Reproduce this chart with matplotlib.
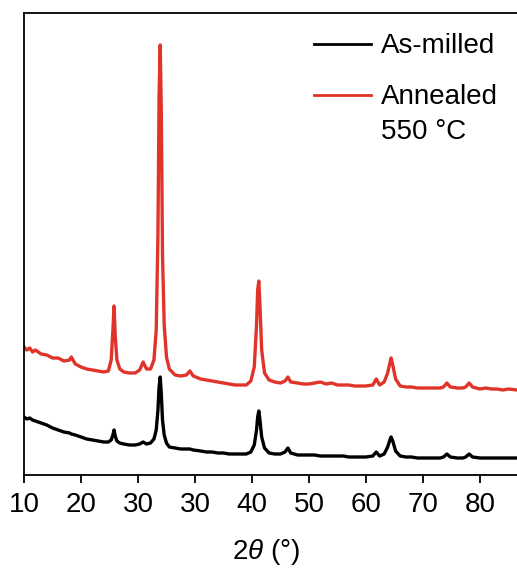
import matplotlib
matplotlib.use("Agg")
import matplotlib.pyplot as plt
from matplotlib.lines import Line2D

plt.rcParams['font.family'] = ['Liberation Sans', 'DejaVu Sans']
plt.rcParams['mathtext.fontset'] = 'custom'
plt.rcParams['mathtext.rm'] = 'Liberation Sans'
plt.rcParams['mathtext.it'] = 'Liberation Sans:italic'

# ---- data (x in axis units, y in arbitrary intensity units) ----
two_theta = [
    10, 10.5, 11, 11.5, 12, 13, 14, 15, 16, 17,
    18, 18.3, 19, 20, 21, 22, 23, 24, 24.8, 25.3,
    25.6, 25.8, 26.0, 26.3, 26.8, 27.5, 28.5, 29.5, 30.3, 30.9,
    31.5, 32.2, 32.8, 33.2, 33.5, 33.7, 33.9, 34.1, 34.3, 34.6,
    35.0, 35.5, 36.5, 37.5, 38.5, 39.1, 39.7, 41, 42, 43,
    44, 45, 46, 47, 48, 49, 49.8, 50.4, 50.8, 51.0,
    51.2, 51.4, 51.7, 52.2, 53, 54, 55, 55.8, 56.3, 56.8,
    58, 59, 60, 61, 62, 63, 64, 65, 66, 67,
    68, 69, 70, 71.2, 71.8, 72.4, 73.2, 73.8, 74.2, 74.4,
    74.7, 75.2, 76, 77, 78, 79, 80, 81, 82, 83,
    83.6, 84.2, 84.8, 86, 87, 87.5, 88.1, 88.7, 90, 91,
    92, 93, 94, 95, 96.5,
]
as_milled = [
    58, 56, 57, 55, 54, 52, 50, 47, 45, 43,
    42, 41, 40, 38, 36, 35, 34, 33, 33, 35,
    40, 45, 39, 34, 32, 31, 30, 30, 31, 33,
    31, 32, 36, 45, 65, 88, 98, 80, 55, 40,
    32, 28, 27, 26, 26, 26, 25, 24, 23, 23,
    22, 22, 21, 21, 21, 21, 23, 30, 45, 58,
    64, 55, 38, 27, 22, 21, 21, 23, 27, 22,
    20, 20, 20, 20, 19, 19, 19, 19, 19, 18,
    18, 18, 18, 19, 23, 19, 21, 28, 35, 38,
    34, 24, 19, 18, 18, 17, 17, 17, 17, 17,
    18, 21, 18, 17, 17, 18, 21, 18, 17, 17,
    17, 17, 17, 17, 17,
]
annealed = [
    128, 125, 127, 123, 125, 121, 120, 117, 117, 114,
    115, 118, 111, 108, 106, 105, 104, 103, 104, 115,
    145, 169, 140, 115, 106, 103, 102, 102, 105, 113,
    106, 106, 115, 145, 240, 380, 430, 360, 220, 150,
    118, 106, 100, 99, 100, 104, 99, 96, 95, 94,
    93, 92, 91, 90, 90, 90, 94, 108, 150, 185,
    194, 170, 125, 102, 95, 93, 92, 94, 98, 93,
    92, 91, 91, 92, 93, 91, 92, 90, 90, 90,
    89, 89, 89, 90, 96, 90, 93, 102, 112, 117,
    110, 96, 89, 88, 88, 87, 87, 87, 87, 87,
    88, 92, 88, 87, 87, 88, 92, 88, 86, 87,
    86, 86, 85, 86, 85,
]
series_labels = ["As-milled", "Annealed\n550 °C"]
tick_positions = [10, 20, 30, 40, 50, 60, 70, 80, 90]
tick_labels = ["10", "20", "30", "30", "40", "50", "60", "70", "80"]

black = "#000000"
red = "#e0342a"

fig = plt.figure(figsize=(5.17, 5.72), dpi=100)
ax = fig.add_axes([24/517, 1-475/572, 1-24/517, (475-13)/572])

ax.plot(two_theta, as_milled, color=black, lw=2.4, solid_joinstyle='round')
ax.plot(two_theta, annealed, color=red, lw=2.4, solid_joinstyle='round')

ax.set_xlim(10, 96.5)
ax.set_ylim(0, 462)
ax.set_yticks([])
ax.set_xticks(tick_positions)
ax.set_xticklabels(tick_labels, fontsize=20)
ax.tick_params(axis='x', direction='out', length=6, width=1.3, pad=6, colors='black')
for s in ['left', 'bottom', 'top']:
    ax.spines[s].set_linewidth(1.3)
ax.spines['right'].set_visible(False)

ax.set_xlabel(r"2$\theta$ (°)", fontsize=20)
ax.xaxis.set_label_coords(0.491, -0.135)

# legend (manual to match layout)
fig.add_artist(Line2D([314/517, 371/517], [1-44/572, 1-44/572], color=black, lw=2.0))
fig.add_artist(Line2D([314/517, 371/517], [1-95/572, 1-95/572], color=red, lw=2.0))
fig.text(381/517, 1-53/572, series_labels[0], fontsize=20, va='baseline', ha='left')
first, second = series_labels[1].split("\n")
fig.text(381/517, 1-104/572, first, fontsize=20, va='baseline', ha='left')
fig.text(381/517, 1-139/572, second, fontsize=20, va='baseline', ha='left')

fig.savefig("out.png", dpi=100)
